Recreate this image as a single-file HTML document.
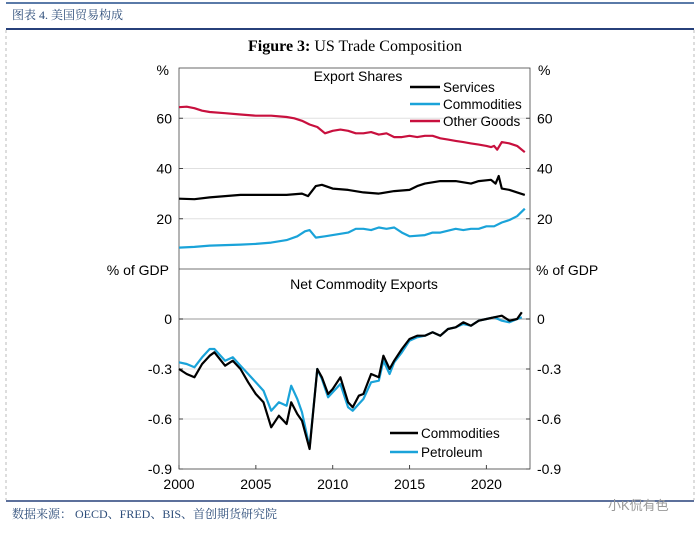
<!DOCTYPE html>
<html><head><meta charset="utf-8"><style>
body{margin:0;background:#fff;width:700px;height:534px;overflow:hidden;font-family:"Liberation Sans",sans-serif}
</style></head><body>
<svg width="700" height="534" xmlns="http://www.w3.org/2000/svg">
<rect x="0" y="0" width="700" height="534" fill="#fff"/>
<line x1="6" y1="3" x2="694" y2="3" stroke="#5a7aa8" stroke-width="2"/>
<text x="12" y="19" font-size="12" fill="#2d4d7a" font-family="'Liberation Serif','Noto Serif CJK SC',serif">图表 4. 美国贸易构成</text>
<line x1="6" y1="29" x2="694" y2="29" stroke="#27407a" stroke-width="2"/>
<line x1="6" y1="30" x2="6" y2="500" stroke="#bbb" stroke-dasharray="3,3"/>
<line x1="694" y1="30" x2="694" y2="500" stroke="#bbb" stroke-dasharray="3,3"/>
<line x1="6" y1="501" x2="694" y2="501" stroke="#27407a" stroke-width="1.5"/>
<text x="12" y="518" font-size="12" fill="#2d4d7a" font-family="'Liberation Serif','Noto Serif CJK SC',serif">数据来源：  OECD、FRED、BIS、首创期货研究院</text>
<text x="608" y="510" font-size="13" fill="#999" font-family="'Liberation Sans','Noto Sans CJK SC',sans-serif">小K侃有色</text>
<text x="355" y="51" text-anchor="middle" font-size="16" font-family="'Liberation Serif',serif"><tspan font-weight="bold">Figure 3:</tspan> US Trade Composition</text>
<g id="plot"></g>
</svg>
<script>
const svgNS="http://www.w3.org/2000/svg";
const g=document.getElementById('plot');
const xTicks=[2000,2005,2010,2015,2020];
const topTicks=[20,40,60];
const botTicks=[0,-0.3,-0.6,-0.9];
const botTickLabels=["0","-0.3","-0.6","-0.9"];
// Export shares
const otherT=[2000,2000.5,2001,2001.5,2002,2003,2004,2005,2006,2007,2007.5,2008,2008.5,2009,2009.5,2010,2010.5,2011,2011.5,2012,2012.5,2013,2013.5,2014,2014.5,2015,2015.5,2016,2016.5,2017,2017.5,2018,2018.5,2019,2019.5,2020,2020.3,2020.5,2020.7,2021,2021.5,2022,2022.5];
const otherV=[64.4,64.6,64,63,62.5,62,61.5,61,61,60.5,60,59,57.5,56.5,54,55,55.5,55,54,54,54.5,53.5,54,52.5,52.5,53,52.5,53,53,52,51.5,51,50.5,50,49.5,49,48.5,49,47.5,50.5,50,49,46.5];
const servT=[2000,2001,2002,2003,2004,2005,2006,2007,2008,2008.4,2008.9,2009.3,2010,2011,2012,2013,2014,2015,2015.5,2016,2017,2018,2019,2019.5,2020.3,2020.6,2020.8,2021,2021.5,2022,2022.5];
const servV=[28,27.8,28.5,29,29.5,29.5,29.5,29.5,30,29,33,33.5,32,31.5,30.5,30,31,31.5,33,34,35,35,34,35,35.5,34,37,32,31.5,30.5,29.5];
const commT=[2000,2001,2002,2003,2004,2005,2006,2007,2007.7,2008.2,2008.5,2008.9,2009.5,2010,2011,2011.5,2012,2012.5,2013,2013.5,2014,2014.5,2015,2016,2016.5,2017,2018,2018.5,2019,2019.5,2020,2020.5,2021,2021.5,2022,2022.5];
const commV=[8.5,8.8,9.3,9.5,9.7,10,10.5,11.5,13,15,15.5,12.5,13,13.5,14.5,16,16,15.5,16.5,16,16.5,14.5,13,13.5,14.5,14.5,16,15.5,16,16,17,17,18.5,19.5,21,24];
// Net commodity exports
const ncT=[2000,2000.5,2001,2001.5,2002,2002.3,2003,2003.5,2004,2004.5,2005,2005.5,2006,2006.5,2007,2007.3,2007.7,2008,2008.5,2009,2009.3,2009.7,2010,2010.5,2011,2011.3,2011.7,2012,2012.5,2013,2013.3,2013.7,2014,2014.5,2015,2015.5,2016,2016.5,2017,2017.5,2018,2018.5,2019,2019.5,2020,2020.5,2021,2021.5,2022,2022.3];
const ncV=[-0.3,-0.33,-0.35,-0.27,-0.22,-0.2,-0.28,-0.25,-0.3,-0.38,-0.45,-0.5,-0.65,-0.58,-0.63,-0.5,-0.57,-0.61,-0.78,-0.3,-0.35,-0.45,-0.42,-0.35,-0.5,-0.53,-0.46,-0.45,-0.33,-0.35,-0.22,-0.3,-0.25,-0.18,-0.12,-0.1,-0.1,-0.08,-0.1,-0.06,-0.05,-0.02,-0.04,-0.01,0,0.01,0.02,-0.01,0,0.04];
const petT=[2000,2000.5,2001,2001.5,2002,2002.3,2003,2003.5,2004,2004.5,2005,2005.5,2006,2006.5,2007,2007.3,2007.7,2008,2008.5,2009,2009.3,2009.7,2010,2010.5,2011,2011.3,2011.7,2012,2012.5,2013,2013.3,2013.7,2014,2014.5,2015,2015.5,2016,2016.5,2017,2017.5,2018,2018.5,2019,2019.5,2020,2020.5,2021,2021.5,2022,2022.3];
const petV=[-0.26,-0.27,-0.29,-0.23,-0.18,-0.18,-0.25,-0.23,-0.28,-0.33,-0.38,-0.43,-0.55,-0.5,-0.52,-0.4,-0.48,-0.56,-0.77,-0.3,-0.36,-0.47,-0.44,-0.39,-0.53,-0.55,-0.51,-0.48,-0.38,-0.37,-0.25,-0.33,-0.26,-0.2,-0.13,-0.11,-0.1,-0.08,-0.1,-0.06,-0.05,-0.03,-0.04,-0.01,0,0.01,-0.01,-0.02,0,0.01];

const X0=179,X1=530,YT=68,YM=269,YB=469;
const xs=t=>X0+(t-2000)*15.37;
const yTop=v=>YM-(v/80)*(YM-YT);
const yBot=v=>YM-(v-0.3)/1.2*(YB-YM);
function el(tag,attrs,parent){const e=document.createElementNS(svgNS,tag);for(const k in attrs)e.setAttribute(k,attrs[k]);(parent||g).appendChild(e);return e;}
function txt(x,y,s,anchor,size){const t=el('text',{x:x,y:y,'text-anchor':anchor||'start','font-size':size||14});t.textContent=s;return t;}
// gridlines
topTicks.forEach(v=>{const l=el('line',{x1:X0,x2:X1,y1:yTop(v),y2:yTop(v),stroke:'#e0e0e0'});

});
botTicks.forEach(v=>{const l=el('line',{x1:X0,x2:X1,y1:yBot(v),y2:yBot(v),stroke:v===0?'#bbb':'#e0e0e0','stroke-width':v===0?1.5:1});

});
// frame
const fr=el('rect',{x:X0,y:YT,width:X1-X0,height:YB-YT,fill:'none',stroke:'#444','stroke-width':0.8});


const sep=el('line',{x1:X0,x2:X1,y1:YM,y2:YM,stroke:'#444','stroke-width':0.8});


// y ticks/labels
topTicks.forEach(v=>{const y=yTop(v);
el('line',{x1:X0,x2:X0+4,y1:y,y2:y,stroke:'#444'});el('line',{x1:X1-4,x2:X1,y1:y,y2:y,stroke:'#444'});
const a=txt(X0-7,y+5,String(v),'end');
const b=txt(X1+7,y+5,String(v),'start');});
botTicks.forEach((v,i)=>{const y=yBot(v);
el('line',{x1:X0,x2:X0+4,y1:y,y2:y,stroke:'#444'});el('line',{x1:X1-4,x2:X1,y1:y,y2:y,stroke:'#444'});
const a=txt(X0-7,y+5,botTickLabels[i],'end');
const b=txt(X1+7,y+5,botTickLabels[i],'start');});
xTicks.forEach(t=>{const x=xs(t);el('line',{x1:x,x2:x,y1:YB,y2:YB-4,stroke:'#444'});
const a=txt(x,YB+20,String(t),'middle');});
[['%',X0-10,YT+7,'end'],['%',X1+8,YT+7,'start'],['% of GDP',X0-10,YM+6,'end'],['% of GDP',X1+6,YM+6,'start']].forEach(u=>{
const a=txt(u[1],u[2],u[0],u[3]);});
const p1=txt(358,81,'Export Shares','middle');
const p2=txt(364,289,'Net Commodity Exports','middle');
function series(T,V,ymap,color,name){const d=T.map((t,i)=>(i?'L':'M')+xs(t).toFixed(1)+','+ymap(V[i]).toFixed(1)).join('');
const p=el('path',{d:d,fill:'none',stroke:color,'stroke-width':2.2,'stroke-linejoin':'round'});

}
series(otherT,otherV,yTop,'#c8103e','other-goods-line');
series(servT,servV,yTop,'#000','services-line');
series(commT,commV,yTop,'#1aa3d9','commodities-share-line');
series(petT,petV,yBot,'#1aa3d9','petroleum-line');
series(ncT,ncV,yBot,'#000','net-commodities-line');
function leg(x1,x2,y,color,label,name){const l=el('line',{x1:x1,x2:x2,y1:y,y2:y,stroke:color,'stroke-width':2.5});
const t=txt(x2+3,y+5,label,'start',13.5);
const gg=el('g',{});gg.appendChild(l);gg.appendChild(t);

}
leg(410,440,87,'#000','Services','legend-services');
leg(410,440,104,'#1aa3d9','Commodities','legend-commodities');
leg(410,440,121,'#c8103e','Other Goods','legend-other-goods');
leg(390,418,433,'#000','Commodities','legend-net-commodities');
leg(390,418,452,'#1aa3d9','Petroleum','legend-petroleum');
</script>
</body></html>
